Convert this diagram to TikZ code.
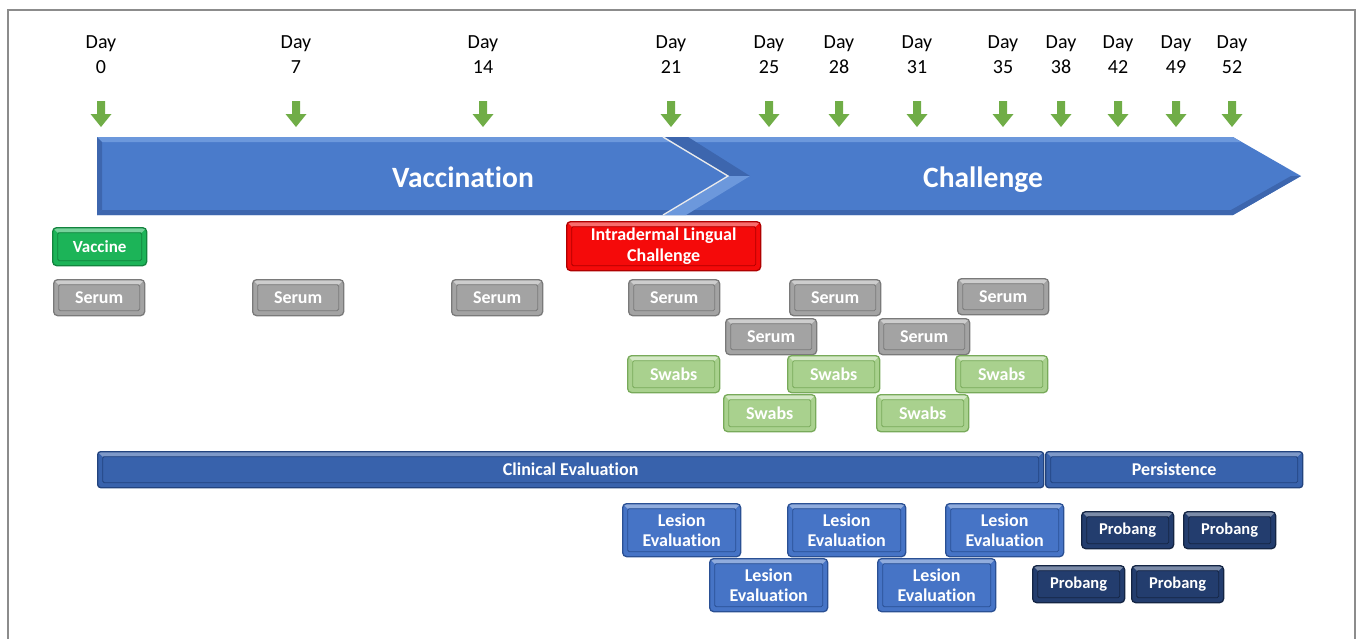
\documentclass[tikz,border=0pt]{standalone}
\usepackage{fontspec}
\setmainfont{Carlito}[Ligatures=NoCommon]
\definecolor{arrowgreen}{HTML}{70AD47}
\definecolor{mainblue}{HTML}{4A7BCB}
\definecolor{mainlight}{HTML}{6C98DC}
\definecolor{maindark}{HTML}{3D66AE}
\definecolor{framegray}{HTML}{8C8C8C}
\definecolor{vacc}{HTML}{1CB458}
\definecolor{vaccd}{HTML}{12843E}
\definecolor{redc}{HTML}{F50A0A}
\definecolor{redd}{HTML}{B00000}
\definecolor{gray1}{HTML}{A3A3A3}
\definecolor{gray2}{HTML}{7A7A7A}
\definecolor{swab}{HTML}{A9D18E}
\definecolor{swabd}{HTML}{78AA5A}
\definecolor{clin}{HTML}{3862AC}
\definecolor{clind}{HTML}{22437E}
\definecolor{les}{HTML}{4674C6}
\definecolor{lesd}{HTML}{2A5094}
\definecolor{prob}{HTML}{233D6E}
\definecolor{probd}{HTML}{142544}
\tikzset{
  bevelbox/.style n args={3}{draw=#2, fill=#1, line width=1.3pt, rounded corners=4pt,
    inner sep=0pt, anchor=north west, text=white, align=center,
    font=\bfseries\fontsize{18}{20.5}\selectfont,
    path picture={
      \fill[#3, rounded corners=0pt] (path picture bounding box.north west) -- (path picture bounding box.north east)
        -- ([shift={(-5pt,-5pt)}]path picture bounding box.north east)
        -- ([shift={(5pt,-5pt)}]path picture bounding box.north west) -- cycle;
      \draw[#2, line width=0.8pt, rounded corners=1.5pt] ([shift={(5pt,-5pt)}]path picture bounding box.north west)
        rectangle ([shift={(-5pt,5pt)}]path picture bounding box.south east);
    }},
  vaccbox/.style={bevelbox={vacc}{vaccd}{vacc!60!white}, minimum width=94pt, minimum height=38pt,
    font=\bfseries\fontsize{17}{20}\selectfont},
  redbox/.style={bevelbox={redc}{redd}{redc!60!white}, minimum width=194pt, minimum height=49pt,
    font=\bfseries\fontsize{18}{21}\selectfont},
  serumbox/.style={bevelbox={gray1}{gray2}{gray1!55!white}, minimum width=91pt, minimum height=36pt},
  swabbox/.style={bevelbox={swab}{swabd}{swab!50!white}, minimum width=92pt, minimum height=37pt},
  barbox/.style={bevelbox={clin}{clind}{clin!65!white}, rounded corners=3pt, minimum height=36pt},
  lesbox/.style={bevelbox={les}{lesd}{les!60!white}, minimum width=118pt, minimum height=53pt},
  probbox/.style={bevelbox={prob}{probd}{prob!60!white}, minimum width=92pt, minimum height=37pt,
    font=\bfseries\fontsize{16.5}{20}\selectfont},
  daylbl/.style={align=center, font=\fontsize{20}{25}\selectfont, inner sep=0pt},
  phase/.style={text=white, font=\bfseries\fontsize{29.5}{32}\selectfont, inner sep=0pt, anchor=base},
  garrow/.pic={\fill[arrowgreen] (-4,0) -- (4,0) -- (4,13) -- (10.5,13) -- (0,26) -- (-10.5,13) -- (-4,13) -- cycle;}
}
\begin{document}
\begin{tikzpicture}[x=1pt,y=-1pt]
\useasboundingbox (0,0) rectangle (1357,638);
% frame
\draw[framegray, line width=2pt] (8,640) -- (8,10) -- (1355,10) -- (1355,640);
% day labels and arrows
\foreach \x/\d in {101/0, 296/7, 483/14, 671/21, 769/25, 839/28, 917/31, 1003/35, 1061/38, 1118/42, 1176/49, 1232/52}{
  \node[daylbl] (day\d) at (\x,55) {Day\\\d};
  \pic at (\x,101) {garrow};
}
% main arrow
\fill[mainblue] (97,137) -- (1233,137) -- (1301,176) -- (1233,215) -- (97,215) -- cycle;
\fill[mainlight] (97,137) -- (1233,137) -- (1241,142) -- (102,142) -- cycle;
\fill[maindark] (97,215) -- (1233,215) -- (1301,176) -- (1291,176) -- (1231,210) -- (102,210) -- cycle;
\fill[maindark] (97,137) -- (102,142) -- (102,210) -- (97,215) -- cycle;
\fill[maindark] (665,137) -- (688,137) -- (750,176) -- (728,176) -- cycle;
\fill[mainlight] (728,176) -- (750,176) -- (686,215) -- (663,215) -- cycle;
\draw[white!85!gray, line width=1.3pt] (663,137) -- (728,176) -- (663,215);
\node[phase] (vac) at (463,187) {Vaccination};
\node[phase] (chal) at (983,187) {Challenge};
% vaccine and challenge
\node[vaccbox] (vaccine) at (52,227) {Vaccine};
\node[redbox] (idlc) at (566,221) {Intradermal Lingual\\Challenge};
% serum
\node[serumbox] (s1) at (53,279) {Serum};
\node[serumbox] (s2) at (252,279) {Serum};
\node[serumbox] (s3) at (451,279) {Serum};
\node[serumbox] (s4) at (628,279) {Serum};
\node[serumbox] (s5) at (789,279) {Serum};
\node[serumbox] (s6) at (957,278) {Serum};
\node[serumbox] (s7) at (725,318) {Serum};
\node[serumbox] (s8) at (878,318) {Serum};
% swabs
\node[swabbox] (w1) at (627,355) {Swabs};
\node[swabbox] (w2) at (787,355) {Swabs};
\node[swabbox] (w3) at (955,355) {Swabs};
\node[swabbox] (w4) at (723,394) {Swabs};
\node[swabbox] (w5) at (876,394) {Swabs};
% bars
\node[barbox, minimum width=946pt] (clinical) at (97,451) {Clinical Evaluation};
\node[barbox, minimum width=257pt] (persist) at (1045,451) {Persistence};
% lesion evaluation
\node[lesbox] (l1) at (622,503) {Lesion\\Evaluation};
\node[lesbox] (l2) at (787,503) {Lesion\\Evaluation};
\node[lesbox] (l3) at (945,503) {Lesion\\Evaluation};
\node[lesbox] (l4) at (709,558) {Lesion\\Evaluation};
\node[lesbox] (l5) at (877,558) {Lesion\\Evaluation};
% probang
\node[probbox] (p1) at (1081,511) {Probang};
\node[probbox] (p2) at (1183,511) {Probang};
\node[probbox] (p3) at (1032,565) {Probang};
\node[probbox] (p4) at (1131,565) {Probang};
\end{tikzpicture}
\end{document}
